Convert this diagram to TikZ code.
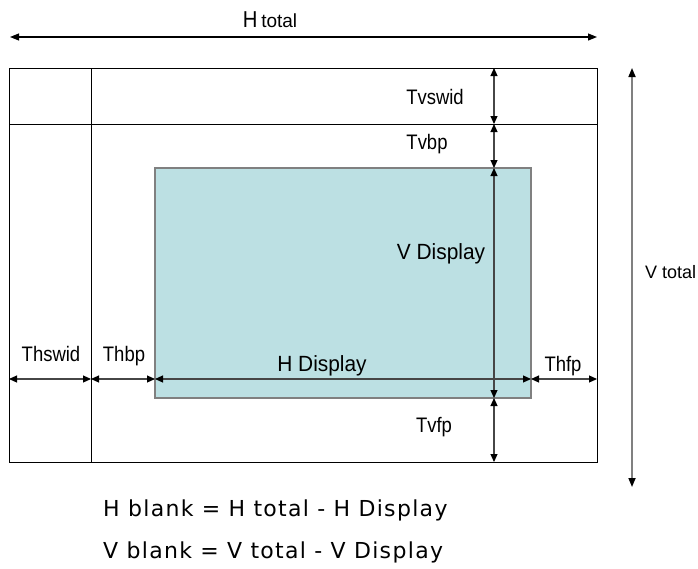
\documentclass[tikz,border=0pt]{standalone}
\usepackage{fontspec}
\usetikzlibrary{arrows.meta}
\newfontfamily\labfont[FakeStretch=0.88]{Liberation Sans}
\newfontfamily\dispfont[FakeStretch=0.95]{Liberation Sans}
\newfontfamily\regfont{Liberation Sans}
\newfontfamily\widefont[LetterSpace=6]{DejaVu Sans}
\definecolor{dispfill}{RGB}{188,224,227}
\definecolor{displine}{RGB}{128,128,128}
\definecolor{dimline}{RGB}{70,70,70}
\begin{document}
\begin{tikzpicture}[x=1pt,y=-1pt,
  frame/.style={draw=black,line width=0.9pt},
  dimarrow/.style={draw=dimline,line width=1.1pt,
    {Triangle[length=8pt,width=7pt,color=black]}-{Triangle[length=8pt,width=7pt,color=black]}},
  bigarrow/.style={draw=displine,line width=1.6pt,
    {Triangle[length=9pt,width=7pt,color=black]}-{Triangle[length=9pt,width=7pt,color=black]}},
  tlabel/.style={inner sep=0pt,anchor=base,font=\labfont\fontsize{21}{24}\selectfont},
  dlabel/.style={inner sep=0pt,anchor=base,font=\dispfont\fontsize{22}{25}\selectfont},
  formula/.style={inner sep=0pt,anchor=base west,font=\widefont\fontsize{22}{26}\selectfont}]
\useasboundingbox (0,0) rectangle (698,568);
% key coordinates
\coordinate (OTL) at (9,68);
\coordinate (OBR) at (597,462);
\coordinate (VLt) at (91,68);
\coordinate (VLb) at (91,462);
\coordinate (HLl) at (9,124);
\coordinate (HLr) at (597,124);
\coordinate (DTL) at (155,168);
\coordinate (DBR) at (531,398);
% display area
\path[fill=dispfill,draw=displine,line width=1.6pt] (DTL) rectangle (DBR);
% outer frame and sync lines
\draw[frame] (OTL) rectangle (OBR);
\draw[frame] (VLt) -- (VLb);
\draw[frame] (HLl) -- (HLr);
% H total
\coordinate (HTl) at (10,37);
\coordinate (HTr) at (597,37);
\draw[draw=black,line width=1.1pt,{Triangle[length=9pt,width=7pt]}-{Triangle[length=9pt,width=7pt]}] (HTl) -- (HTr);
\node[inner sep=0pt,anchor=base] (htot) at (270,27) {\labfont\fontsize{23}{25}\selectfont H\,{\regfont\fontsize{19}{21}\selectfont total}};
% vertical dimension arrows
\coordinate (V0) at (494,68);
\coordinate (V1) at (494,124);
\coordinate (V2) at (494,168);
\coordinate (V3) at (494,398);
\coordinate (V4) at (494,462);
\draw[dimarrow] (V0) -- (V1);
\draw[dimarrow] (V1) -- (V2);
\draw[dimarrow] (V2) -- (V3);
\draw[dimarrow] (V3) -- (V4);
% horizontal dimension arrows
\coordinate (H0) at (9,379);
\coordinate (H1) at (91,379);
\coordinate (H2) at (155,379);
\coordinate (H3) at (531,379);
\coordinate (H4) at (597,379);
\draw[dimarrow] (H0) -- (H1);
\draw[dimarrow] (H1) -- (H2);
\draw[dimarrow] (H2) -- (H3);
\draw[dimarrow] (H3) -- (H4);
% V total
\coordinate (VTt) at (632,68);
\coordinate (VTb) at (632,487);
\draw[bigarrow] (VTt) -- (VTb);
% labels
\node[tlabel] (tvswid) at (435,104) {Tvswid};
\node[tlabel] (tvbp) at (427,149) {Tvbp};
\node[dlabel] (vdisp) at (441,259) {V Display};
\node[tlabel] (tvfp) at (434,432) {Tvfp};
\node[tlabel] (thswid) at (51,361) {Thswid};
\node[tlabel] (thbp) at (124,361) {Thbp};
\node[dlabel] (hdisp) at (322,371) {H Display};
\node[tlabel] (thfp) at (563,371) {Thfp};
\node[inner sep=0pt,anchor=base west,font=\regfont\fontsize{18}{20}\selectfont] (vtot) at (645,278) {V total};
\node[formula] (hblank) at (103,516) {H blank = H total - H Display};
\node[formula] (vblank) at (103,558) {V blank = V total - V Display};
\end{tikzpicture}
\end{document}
